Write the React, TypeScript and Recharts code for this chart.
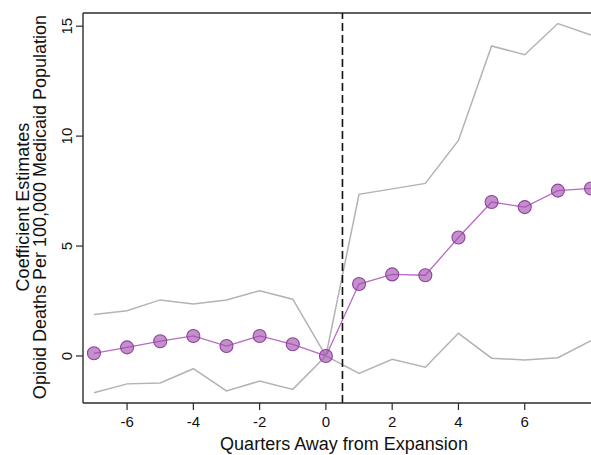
import React from "react";
import {
  ComposedChart,
  Line,
  XAxis,
  YAxis,
  ReferenceLine,
  Label,
} from "recharts";

// Event-study coefficients by quarter relative to expansion
const quarters = [-7, -6, -5, -4, -3, -2, -1, 0, 1, 2, 3, 4, 5, 6, 7, 8];
const estimates = [0.12, 0.39, 0.67, 0.91, 0.45, 0.91, 0.53, 0, 3.27, 3.71, 3.67, 5.39, 7.0, 6.77, 7.52, 7.62];
const upperCI = [1.89, 2.06, 2.55, 2.36, 2.55, 2.97, 2.58, 0, 7.35, 7.6, 7.85, 9.8, 14.1, 13.7, 15.12, 14.6];
const lowerCI = [-1.67, -1.27, -1.23, -0.58, -1.59, -1.14, -1.52, 0, -0.79, -0.15, -0.51, 1.03, -0.1, -0.18, -0.08, 0.7];

const xTicks = [-6, -4, -2, 0, 2, 4, 6];
const yTicks = [0, 5, 10, 15];
const expansionLine = 0.5;

const X_MIN = -7.33;
const X_MAX = 8;
const Y_MIN = -2.14;
const Y_MAX = 15.6;

const data = quarters.map((q, i) => ({
  q,
  est: estimates[i],
  hi: upperCI[i],
  lo: lowerCI[i],
}));

const FONT = "'Liberation Sans', Arial, sans-serif";
const AXIS = "#2b2b2b";
const GREY = "#b3b3b3";

const XTick = (props: any) => {
  const { x, y, payload } = props;
  return (
    <text
      x={x}
      y={y + 15}
      textAnchor="middle"
      fontFamily={FONT}
      fontSize={15}
      fill="#111"
    >
      {payload.value}
    </text>
  );
};

const YTick = (props: any) => {
  const { y, payload } = props;
  const bx = 72;
  return (
    <text
      x={bx}
      y={y}
      transform={`rotate(-90, ${bx}, ${y})`}
      textAnchor="middle"
      fontFamily={FONT}
      fontSize={15}
      fill="#111"
    >
      {payload.value}
    </text>
  );
};

const YTitle = () => {
  const cy = 207;
  const lines = [
    { text: "Coefficient Estimates", x: 29 },
    { text: "Opioid Deaths Per 100,000 Medicaid Population", x: 46 },
  ];
  return (
    <g>
      {lines.map((l) => (
        <text
          key={l.text}
          x={l.x}
          y={cy}
          transform={`rotate(-90, ${l.x}, ${cy})`}
          textAnchor="middle"
          fontFamily={FONT}
          fontSize={18}
          fill="#111"
        >
          {l.text}
        </text>
      ))}
    </g>
  );
};

const XTitle = () => (
  <text
    x={344}
    y={450}
    textAnchor="middle"
    fontFamily={FONT}
    fontSize={18}
    fill="#111"
  >
    Quarters Away from Expansion
  </text>
);

const EstDot = (props: any) => {
  const { cx, cy, index } = props;
  if (cx == null || cy == null) return null;
  return (
    <circle
      key={`d-${index}`}
      cx={cx}
      cy={cy}
      r={6.5}
      fill="#a04cad"
      fillOpacity={0.62}
      stroke="#9040a0"
      strokeWidth={1.1}
    />
  );
};

export default function App() {
  return (
    <div style={{ position: "absolute", left: 0, top: 0, background: "#fff" }}>
      <ComposedChart
        width={591}
        height={455}
        data={data}
        margin={{ top: 13, right: 0, bottom: 0, left: 0 }}
      >
        <XAxis
          dataKey="q"
          type="number"
          domain={[X_MIN, X_MAX]}
          ticks={xTicks}
          allowDataOverflow
          height={52}
          tickSize={7}
          tickLine={{ stroke: AXIS, strokeWidth: 1.2 }}
          axisLine={{ stroke: AXIS, strokeWidth: 1.4 }}
          tick={<XTick />}
          interval={0}
        >
          <Label content={<XTitle />} />
        </XAxis>
        <YAxis
          type="number"
          domain={[Y_MIN, Y_MAX]}
          ticks={yTicks}
          allowDataOverflow
          width={83}
          tickSize={7}
          tickLine={{ stroke: AXIS, strokeWidth: 1.2 }}
          axisLine={{ stroke: AXIS, strokeWidth: 1.4 }}
          tick={<YTick />}
          interval={0}
        >
          <Label content={<YTitle />} />
        </YAxis>
        <ReferenceLine y={Y_MAX} stroke={AXIS} strokeWidth={1.4} />
        <Line
          dataKey="est"
          type="linear"
          stroke="#b96ac4"
          strokeWidth={1.3}
          dot={<EstDot />}
          activeDot={false}
          isAnimationActive={false}
        />
        <Line
          dataKey="hi"
          type="linear"
          stroke={GREY}
          strokeWidth={1.5}
          dot={false}
          activeDot={false}
          isAnimationActive={false}
        />
        <Line
          dataKey="lo"
          type="linear"
          stroke={GREY}
          strokeWidth={1.5}
          dot={false}
          activeDot={false}
          isAnimationActive={false}
        />
        <ReferenceLine
          x={expansionLine}
          stroke="#111"
          strokeWidth={1.6}
          strokeDasharray="8 4"
        />
      </ComposedChart>
    </div>
  );
}
